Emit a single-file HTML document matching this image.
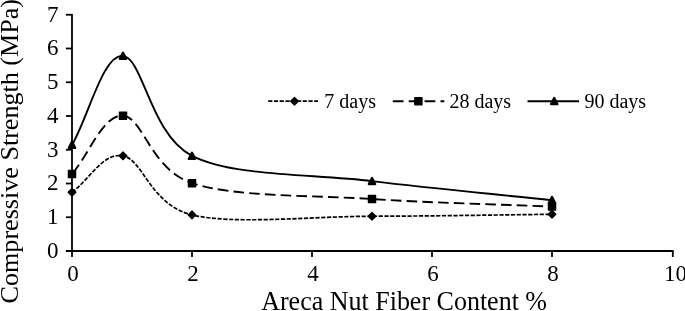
<!DOCTYPE html>
<html><head><meta charset="utf-8"><title>Compressive Strength vs Areca Nut Fiber Content</title>
<style>html,body{margin:0;padding:0;background:#fff;overflow:hidden}svg{display:block}</style></head>
<body>
<svg width="685" height="311" viewBox="0 0 685 311">
<rect width="685" height="311" fill="#fff"/>
<g stroke="#000" stroke-width="1.8" fill="none">
<path d="M72 13.95 V257"/>
<path d="M65.9 251 H673.6"/>
<path d="M65.9 217.25 H72"/>
<path d="M65.9 183.50 H72"/>
<path d="M65.9 149.75 H72"/>
<path d="M65.9 116.00 H72"/>
<path d="M65.9 82.25 H72"/>
<path d="M65.9 48.50 H72"/>
<path d="M65.9 14.75 H72"/>
<path d="M192.00 251 V257"/>
<path d="M312.00 251 V257"/>
<path d="M432.00 251 V257"/>
<path d="M552.00 251 V257"/>
<path d="M672.80 251 V257"/>
</g>
<g font-family="'Liberation Serif', 'Times New Roman', serif" fill="#000">
<g font-size="23" text-anchor="end">
<text transform="translate(58.4 257.80) scale(1 1.03)">0</text>
<text transform="translate(58.4 224.05) scale(1 1.03)">1</text>
<text transform="translate(58.4 190.30) scale(1 1.03)">2</text>
<text transform="translate(58.4 156.55) scale(1 1.03)">3</text>
<text transform="translate(58.4 122.80) scale(1 1.03)">4</text>
<text transform="translate(58.4 89.05) scale(1 1.03)">5</text>
<text transform="translate(58.4 55.30) scale(1 1.03)">6</text>
<text transform="translate(58.4 21.55) scale(1 1.03)">7</text>
</g>
<g font-size="23" text-anchor="middle">
<text transform="translate(72.90 281.4) scale(1 1.03)">0</text>
<text transform="translate(192.90 281.4) scale(1 1.03)">2</text>
<text transform="translate(312.90 281.4) scale(1 1.03)">4</text>
<text transform="translate(432.90 281.4) scale(1 1.03)">6</text>
<text transform="translate(552.90 281.4) scale(1 1.03)">8</text>
<text transform="translate(675.40 281.4) scale(1 1.03)">10</text>
</g>
<text transform="translate(261.2 310.4) scale(1 1.02)" font-size="26">Areca Nut Fiber Content %</text>
<text transform="translate(18.4 303.4) rotate(-90)" font-size="26.1">Compressive Strength (MPa)</text>
<g font-size="20">
<text x="324.3" y="107.6">7 days</text>
<text x="449.4" y="107.6">28 days</text>
<text x="584.4" y="107.6">90 days</text>
</g>
</g>
<path d="M72.00 192.28 C89.00 180.12 103.00 152.06 123.00 155.82 C143.00 159.59 150.50 204.82 192.00 214.89 C233.50 224.96 312.00 216.33 372.00 216.24 C432.00 216.14 492.00 214.96 552.00 214.31" fill="none" stroke="#000" stroke-width="1.7" stroke-dasharray="4.2 1.55"/>
<g fill="#000" stroke="#000" stroke-width="1.3" stroke-linejoin="round"><path d="M72.00 188.43 L75.85 192.28 L72.00 196.12 L68.15 192.28Z"/><path d="M123.00 151.97 L126.85 155.82 L123.00 159.67 L119.15 155.82Z"/><path d="M192.00 211.04 L195.85 214.89 L192.00 218.74 L188.15 214.89Z"/><path d="M372.00 212.39 L375.85 216.24 L372.00 220.09 L368.15 216.24Z"/><path d="M552.00 210.46 L555.85 214.31 L552.00 218.16 L548.15 214.31Z"/></g>
<path d="M72.00 174.05 C89.00 154.59 103.00 114.14 123.00 115.66 C143.00 117.18 150.50 169.27 192.00 183.16 C233.50 197.06 312.00 195.12 372.00 199.03 C432.00 202.93 492.00 204.09 552.00 206.62" fill="none" stroke="#000" stroke-width="1.9" stroke-dasharray="10.6 5.15" stroke-dashoffset="-1"/>
<g fill="#000" stroke="#000" stroke-width="1.3" stroke-linejoin="round"><rect x="68.40" y="170.45" width="7.20" height="7.20"/><rect x="119.40" y="112.06" width="7.20" height="7.20"/><rect x="188.40" y="179.56" width="7.20" height="7.20"/><rect x="368.40" y="195.43" width="7.20" height="7.20"/><rect x="548.40" y="203.02" width="7.20" height="7.20"/></g>
<path d="M72.00 145.02 C89.00 115.32 103.00 54.12 123.00 55.92 C143.00 57.72 150.50 134.96 192.00 155.82 C233.50 176.69 312.00 173.74 372.00 181.14 C432.00 188.53 492.00 193.85 552.00 200.21" fill="none" stroke="#000" stroke-width="1.9"/>
<g fill="#000" stroke="#000" stroke-width="1.3" stroke-linejoin="round"><path stroke-width="2.4" d="M72.00 141.92 L75.10 147.92 L68.90 147.92Z"/><path stroke-width="2.4" d="M123.00 52.82 L126.10 58.82 L119.90 58.82Z"/><path stroke-width="2.4" d="M192.00 152.72 L195.10 158.72 L188.90 158.72Z"/><path stroke-width="2.4" d="M372.00 178.04 L375.10 184.04 L368.90 184.04Z"/><path stroke-width="2.4" d="M552.00 197.11 L555.10 203.11 L548.90 203.11Z"/></g>
<path d="M268.2 101.20 H318" fill="none" stroke="#000" stroke-width="1.7" stroke-dasharray="4.2 1.55"/>
<g fill="#000" stroke="#000" stroke-width="1.3" stroke-linejoin="round"><path d="M294.50 97.35 L298.35 101.20 L294.50 105.05 L290.65 101.20Z"/></g>
<path d="M392.8 101.20 H444.3" fill="none" stroke="#000" stroke-width="1.9" stroke-dasharray="10.7 5.2"/>
<g fill="#000" stroke="#000" stroke-width="1.3" stroke-linejoin="round"><rect x="414.80" y="97.60" width="7.20" height="7.20"/></g>
<path d="M527.5 101.20 H579" fill="none" stroke="#000" stroke-width="1.9"/>
<g fill="#000" stroke="#000" stroke-width="1.3" stroke-linejoin="round"><path stroke-width="2.4" d="M554.20 98.10 L557.30 104.10 L551.10 104.10Z"/></g>
</svg>
</body></html>
